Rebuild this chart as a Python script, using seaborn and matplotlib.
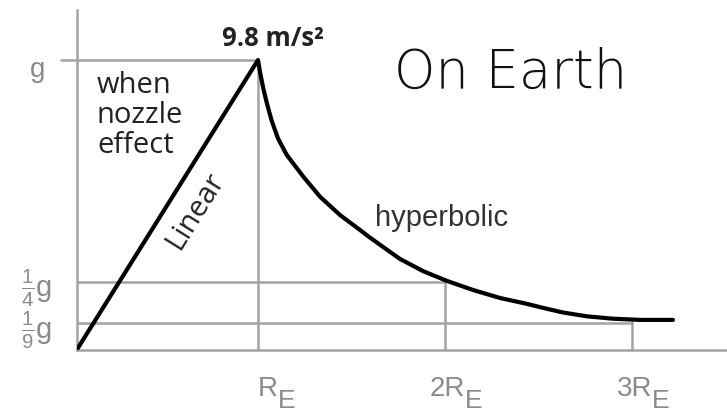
import matplotlib
matplotlib.use("Agg")
import matplotlib.pyplot as plt
import matplotlib.transforms as mtransforms
import seaborn as sns
import pandas as pd

# ---- data (radius in Earth radii, acceleration in units of g) ----
linear_r = [0.03, 1.0]
linear_g = [0.02, 1.0]
hyper_r = [1.012, 1.028, 1.047, 1.073, 1.107, 1.153, 1.242, 1.332, 1.439,
           1.545, 1.599, 1.652, 1.759, 1.882, 2.009, 2.150, 2.294, 2.439, 2.508,
           2.631, 2.759, 2.898, 3.043, 3.219]
hyper_g = [0.955, 0.905, 0.855, 0.795, 0.735, 0.680, 0.606, 0.538, 0.476,
           0.426, 0.400, 0.376, 0.328, 0.287, 0.254, 0.223, 0.196, 0.176, 0.165,
           0.147, 0.134, 0.126, 0.122, 0.122]
x_ticks = [1, 2, 3]
x_labels = ["R", "2R", "3R"]
x_sub = "E"
y_ticks = [1.0, 0.25, 1 / 9]
y_labels = ["g", r"$\frac{1}{4}$g", r"$\frac{1}{9}$g"]

sns.set_style("white")
plt.rcParams["font.family"] = ["Liberation Sans", "DejaVu Sans"]
plt.rcParams["mathtext.fontset"] = "custom"
plt.rcParams["mathtext.rm"] = "Liberation Sans"
plt.rcParams["mathtext.it"] = "Liberation Sans:italic"
plt.rcParams["mathtext.bf"] = "Liberation Sans:bold"

df = pd.DataFrame({"r": linear_r + hyper_r, "a": linear_g + hyper_g})

W, H = 727, 413
fig = plt.figure(figsize=(W / 100, H / 100), dpi=100)
ax = fig.add_axes([77 / W, (H - 350) / H, (W - 77) / W, 340 / H])
ax.set_xlim((77 - 71) / 187, (727 - 71) / 187)
ax.set_ylim((356 - 350) / 296, (356 - 10) / 296)

grey = "#a3a3a3"
lab_grey = "#8a8a8a"
dark = "#222222"

# reference lines
ax.hlines(1.0, (60 - 71) / 187, 1.0, color=grey, lw=1.8, clip_on=False, zorder=1)
ax.hlines(0.25, 0.03, 2.0, color=grey, lw=1.8, zorder=1)
ax.hlines(1 / 9, 0.03, 3.0, color=grey, lw=1.8, zorder=1)
ax.vlines(1.0, 0.02, 1.0, color=grey, lw=1.8, zorder=1)
ax.vlines(2.0, 0.02, 0.254, color=grey, lw=1.8, zorder=1)
ax.vlines(3.0, 0.02, 0.122, color=grey, lw=1.8, zorder=1)

sns.lineplot(data=df, x="r", y="a", ax=ax, color="black", lw=3,
             estimator=None, sort=False, legend=False, zorder=3)

for s in ["top", "right"]:
    ax.spines[s].set_visible(False)
for s in ["left", "bottom"]:
    ax.spines[s].set_color(grey)
    ax.spines[s].set_linewidth(1.8)

ax.set_xticks(x_ticks)
ax.set_xticklabels(x_labels, fontsize=20, color=lab_grey)
ax.set_yticks(y_ticks)
ax.set_yticklabels(y_labels, fontsize=21, color=lab_grey)
ax.tick_params(axis="x", length=10, width=1.8, color=grey, pad=9, direction="out")
ax.tick_params(axis="y", length=0, pad=18)
ax.set_xlabel("")
ax.set_ylabel("")

# x tick labels: right aligned, shifted right; subscript E
shift_r = mtransforms.ScaledTranslation(20 / 100, 0, fig.dpi_scale_trans)
for lab in ax.get_xticklabels():
    lab.set_ha("right")
    lab.set_transform(lab.get_transform() + shift_r)
xtrans = ax.get_xaxis_transform()
for xt in x_ticks:
    ax.annotate(x_sub, xy=(xt, 0), xycoords=xtrans, xytext=(14.4, -42),
                textcoords="offset points", fontsize=19, color=lab_grey,
                ha="left", va="baseline", annotation_clip=False)

# y tick labels: baseline below the line
for i, lab in enumerate(ax.get_yticklabels()):
    lab.set_va("baseline")
    dx = -7 / 100 if i == 0 else 0
    dy = -17 / 100 if i == 0 else -16 / 100
    lab.set_transform(lab.get_transform() +
                      mtransforms.ScaledTranslation(dx, dy, fig.dpi_scale_trans))
ax.get_yticklabels()[0].set_fontsize(20)

# annotations
ax.text(0.139, 0.963, "when\nnozzle\neffect", fontsize=21, family=["Open Sans", "DejaVu Sans"],
        color=dark, va="top", ha="left", linespacing=1.05)
ax.text(0.663, 0.49, "Linear", fontsize=21, family=["Open Sans", "DejaVu Sans"],
        color=dark, rotation=58, ha="center", va="center", rotation_mode="anchor")
ax.text(1.08, 1.074, "9.8 m/s²", fontsize=18.5, family=["Open Sans", "DejaVu Sans"],
        fontweight="bold", color=dark, ha="center", va="center")
ax.text(2.35, 0.955, "On Earth", fontsize=38, family=["DejaVu Sans"], fontweight="light",
        color="#111111", ha="center", va="center")
ax.text(1.98, 0.466, "hyperbolic", fontsize=21, color="#333333", ha="center", va="center")

fig.savefig("out.png", dpi=100)
